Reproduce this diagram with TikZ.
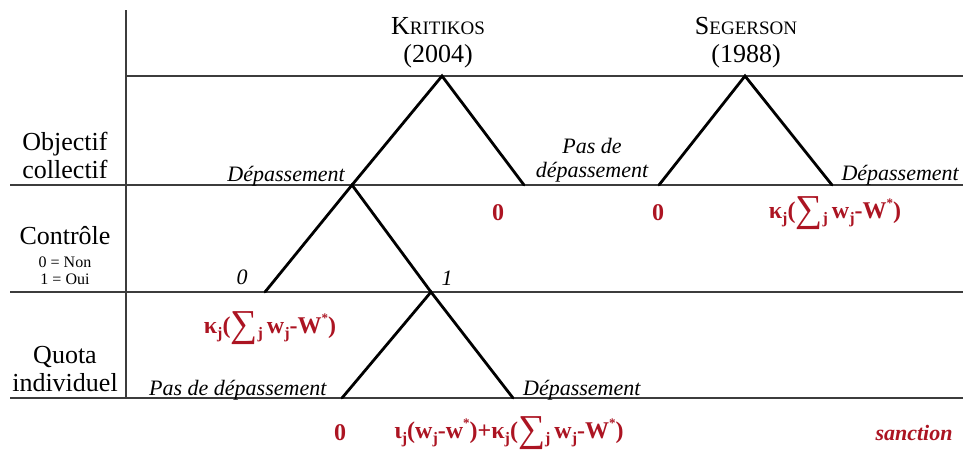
\documentclass[tikz,border=0pt]{standalone}
\usepackage{fontspec}
\setmainfont{Liberation Serif}
\definecolor{sred}{RGB}{172,20,34}
\definecolor{gridgray}{RGB}{60,60,60}
\newcommand{\lowj}[1]{\raisebox{-0.5ex}{\fontsize{16}{16}\selectfont #1}}
\newcommand{\hist}{\raisebox{1.0ex}{\fontsize{13}{13}\selectfont *}}
\newcommand{\bigsum}{\raisebox{-0.3ex}{\fontsize{38}{38}\selectfont\mdseries ∑}}
\newcommand{\kform}{κ\lowj{j}(\bigsum\lowj{j}\,w\lowj{j}-W\hist)}
\begin{document}
\begin{tikzpicture}[x=1pt,y=-1pt,
  grid/.style={draw=gridgray,line width=1.4pt},
  branch/.style={draw=black,line width=2.8pt},
  lefttext/.style={font=\fontsize{26}{28}\selectfont,align=center,inner sep=0pt},
  smalltext/.style={font=\fontsize{16}{17}\selectfont,inner sep=0pt},
  head/.style={inner sep=0pt,align=center},
  itl/.style={font=\fontsize{22}{24}\selectfont\itshape,inner sep=0pt},
  pay/.style={font=\fontsize{24}{26}\selectfont\bfseries,text=sred,inner sep=0pt}]
\useasboundingbox (0,0) rectangle (963,450);
\fill[white] (0,0) rectangle (963,450);
% grid
\coordinate (vt) at (126,10);
\coordinate (vb) at (126,398);
\coordinate (h0l) at (126,76);  \coordinate (h0r) at (963,76);
\coordinate (h1l) at (10,185);  \coordinate (h1r) at (963,185);
\coordinate (h2l) at (10,292);  \coordinate (h2r) at (963,292);
\coordinate (h3l) at (10,398);  \coordinate (h3r) at (963,398);
\draw[grid] (vt) -- (vb);
\draw[grid] (h0l) -- (h0r);
\draw[grid] (h1l) -- (h1r);
\draw[grid] (h2l) -- (h2r);
\draw[grid] (h3l) -- (h3r);
% headers
\node[head] (krit) at (438,26) {\fontsize{26}{26}\selectfont K\fontsize{19}{19}\selectfont RITIKOS};
\node[head,font=\fontsize{26}{26}\selectfont] (kyear) at (438,56) {(2004)};
\node[head] (seg) at (746,26) {\fontsize{26}{26}\selectfont S\fontsize{19}{19}\selectfont EGERSON};
\node[head,font=\fontsize{26}{26}\selectfont] (syear) at (746,56) {(1988)};
% left labels
\node[lefttext] (obj) at (65,155) {Objectif\\collectif};
\node[lefttext] (ctrl) at (65,236) {Contrôle};
\node[smalltext] (non) at (65,262) {0 = Non};
\node[smalltext] (oui) at (65,279) {1 = Oui};
\node[lefttext] (quota) at (65,369) {Quota\\individuel};
% tree coordinates
\coordinate (kr) at (442,76);
\coordinate (kd) at (352,185);
\coordinate (kp) at (524,185);
\coordinate (c0) at (265,292);
\coordinate (c1) at (431,292);
\coordinate (qp) at (342,398);
\coordinate (qd) at (513,398);
\coordinate (sr) at (745,76);
\coordinate (sp) at (659,185);
\coordinate (sd) at (832,185);
\draw[branch,line cap=round] (kd) -- (kr) -- (kp);
\draw[branch,line cap=round] (c0) -- (kd) -- (c1);
\draw[branch,line cap=round] (qp) -- (c1) -- (qd);
\draw[branch,line cap=round] (sp) -- (sr) -- (sd);
% branch labels
\node[itl,anchor=base east] (l1) at (345,181) {Dépassement};
\node[itl,align=center] (l2) at (592,160) {Pas de\\dépassement};
\node[itl,anchor=base east] (l3) at (959,180) {Dépassement};
\node[itl] (l0) at (242,277) {0};
\node[itl] (l1b) at (447,278) {1};
\node[itl,anchor=base west] (l4) at (149,395) {Pas de dépassement};
\node[itl,anchor=base west] (l5) at (523,395) {Dépassement};
% payoffs
\node[pay] (p1) at (498,213) {0};
\node[pay] (p2) at (658,213) {0};
\node[pay] (p3) at (835,213) {\kform};
\node[pay] (p4) at (270,328) {\kform};
\node[pay] (p5) at (340,433) {0};
\node[pay] (p6) at (509,433) {ι\lowj{j}(w\lowj{j}-w\hist)+\kform};
\node[pay,font=\fontsize{22}{24}\selectfont\bfseries\itshape] (sanc) at (914,433) {sanction};
\end{tikzpicture}
\end{document}
